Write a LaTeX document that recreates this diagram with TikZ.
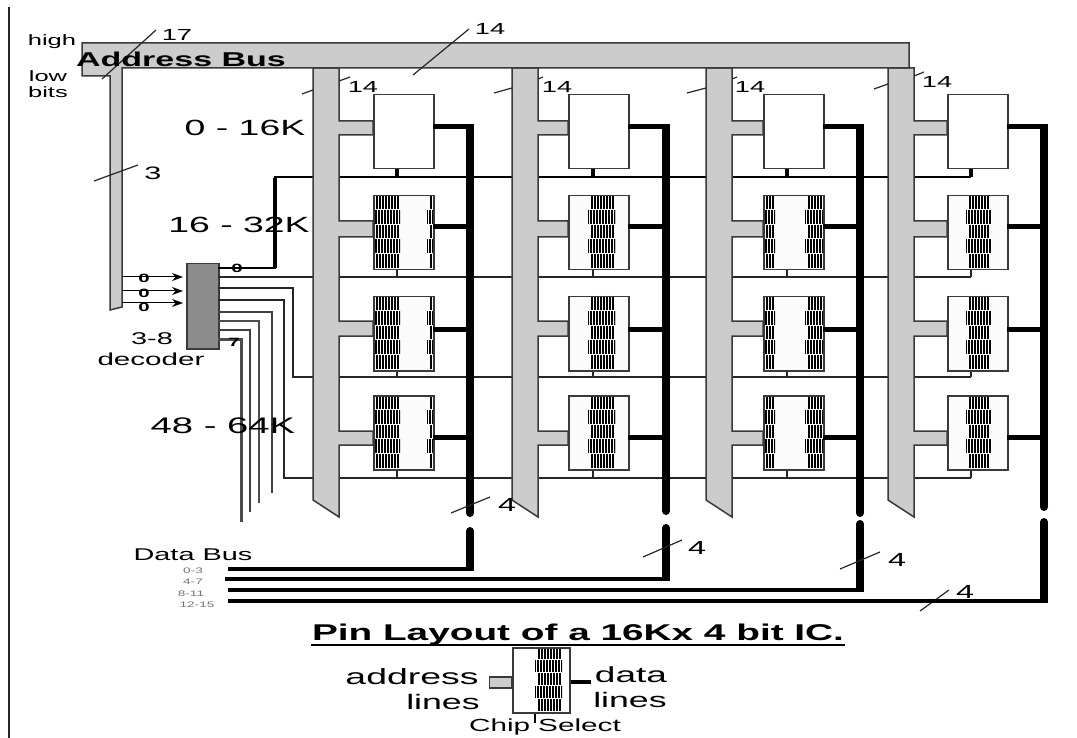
\documentclass[tikz,border=0pt]{standalone}
\usepackage{fontspec}
\usetikzlibrary{arrows.meta}
\newfontfamily\wf[FakeStretch=1.7]{Liberation Sans}
\newcommand{\fsz}[1]{\fontsize{#1}{#1}\selectfont\wf}
\definecolor{busgray}{HTML}{CCCCCC}
\definecolor{busedge}{HTML}{3A3A3A}
\definecolor{decgray}{HTML}{8C8C8C}
\definecolor{chipbg}{HTML}{FBFBFB}
\tikzset{
  lbl/.style={inner sep=0pt,text=black,font=\fsz{#1}},
  busline/.style={draw=busedge,fill=busgray,line width=1.5pt,line join=miter},
  chipbox/.style={draw=busedge,fill=chipbg,line width=1.5pt,inner sep=0pt,minimum width=60pt,minimum height=74pt,anchor=north west},
  plainchip/.style={chipbox,fill=white},
  slash/.style={line width=1.2pt,draw=black!85},
  seline/.style={line width=1.5pt,draw=black!85},
  selthick/.style={line width=2pt,draw=black},
  dataline/.style={line width=5pt,draw=black},
  datathick/.style={line width=8pt,draw=black},
  databus/.style={line width=4.5pt,draw=black},
  outwire/.style={line width=2.4pt,draw=black!70},
  inwire/.style={line width=1pt,draw=black,shorten >=3pt,-{Stealth[length=11pt,width=8pt]}},
}
% x1, x2, ytop, band height
\newcommand{\stripes}[4]{%
  \begin{scope}
  \pgfmathsetmacro\yz{#3+5*#4}
  \clip (#1,#3) rectangle (#2,\yz);
  \foreach \b in {0,...,4}{
    \pgfmathsetmacro\ya{#3+#4*\b}
    \pgfmathsetmacro\yb{\ya+#4-1}
    \pgfmathsetmacro\odd{int(mod(\b,2))}
    \pgfmathsetmacro\n{int((#2-#1)/3)}
    \pgfmathsetmacro\ks{int(1-\odd)}
    \pgfmathsetmacro\ke{int(\n-1+\odd)}
    \foreach \k in {\ks,...,\ke}{
      \pgfmathsetmacro\xx{#1+1+\k*3-\odd}
      \draw[line width=1.6pt,black] (\xx,\ya) -- (\xx,\yb);
    }
  }
  \end{scope}
}
\begin{document}
\begin{tikzpicture}[x=1pt,y=-1pt]
\useasboundingbox (0,0) rectangle (1077,738);
\path[fill=white] (0,0) rectangle (1077,738);
% page rule
\draw[line width=2pt,black!85] (9,7) -- (9,738);

% decoder
\node[draw=busedge,fill=decgray,line width=1.5pt,minimum width=32pt,minimum height=85pt,inner sep=0pt,anchor=north west] (dec) at (186,263) {};
\coordinate (o0) at (218,268);
\coordinate (o1) at (218,277);
\coordinate (o2) at (218,288);
\coordinate (o3) at (218,300);
\coordinate (o4) at (218,312);
\coordinate (o5) at (218,321);
\coordinate (o6) at (218,330);
\coordinate (o7) at (218,339);

% select lines
\coordinate (s0) at (971,177);
\coordinate (s1) at (971,277);
\coordinate (s2) at (971,377);
\coordinate (s3) at (971,478);
\draw[selthick] (o0) -- (275,268) -- (275,177) -- (s0);
\draw[line width=4pt,black] (275,268) -- (275,178);
\draw[seline] (o1) -- (s1);
\draw[seline] (o2) -- (293,288) -- (293,377) -- (s2);
\draw[seline] (o3) -- (284,300) -- (284,478) -- (s3);
% unused decoder outputs
\coordinate (e4) at (272,493);
\coordinate (e5) at (259,503);
\coordinate (e6) at (250,512);
\coordinate (e7) at (241,522);
\draw[line width=1.6pt,black!75] (o4) -| (e4);
\draw[outwire] (o5) -| (e5);
\draw[line width=1.8pt,black!75] (o6) -| (e6);
\draw[line width=3pt,black!70] (o7) -| (e7);

% columns
\foreach \c/\bl/\cl/\dx/\sx/\up/\lo/\by/\sa/\sb/\sc/\sd in {
  1/313/373/470/397/513/531/569/0/27/54/60,
  2/512/568/666/593/511/528/579/20/47/20/47,
  3/706/763/860/787/513/524/590/0/12/42/60,
  4/888/947/1044/971/507/522/601/19/45/19/45}{
  \pgfmathsetmacro\br{\bl+26}
  % bus with stubs
  \draw[busline] (\bl,68) -- (\bl,500) -- (\br,517) -- (\br,445) -- (\cl,445) -- (\cl,431)
     -- (\br,431) -- (\br,336) -- (\cl,336) -- (\cl,321) -- (\br,321) -- (\br,237)
     -- (\cl,237) -- (\cl,221) -- (\br,221) -- (\br,135) -- (\cl,135) -- (\cl,121)
     -- (\br,121) -- (\br,68) -- cycle;
  % chips
  \pgfmathsetmacro\cr{\cl+60}
  \node[plainchip] (c\c r1) at (\cl,94) {};
  \foreach \r/\ty in {2/195,3/296,4/395}{
    \node[chipbox] (c\c r\r) at (\cl,\ty) {};
    \pgfmathsetmacro\xa{\cl+\sa}\pgfmathsetmacro\xb{\cl+\sb}
    \pgfmathsetmacro\xc{\cl+\sc}\pgfmathsetmacro\xd{\cl+\sd}
    \stripes{\xa}{\xb}{\ty}{14.8}
    \stripes{\xc}{\xd}{\ty}{14.8}
    \node[chipbox,fill=none] at (\cl,\ty) {};
  }
  % chip select stubs
  \draw[line width=4pt,black] (c\c r1.south -| \sx,0) -- (\sx,177);
  \draw[seline] (c\c r2.south -| \sx,0) -- (\sx,277);
  \draw[seline] (c\c r3.south -| \sx,0) -- (\sx,377);
  \draw[seline] (c\c r4.south -| \sx,0) -- (\sx,478);
  % data lines
  \coordinate (dt\c) at (\dx,124.5);
  \coordinate (du\c) at (\dx,\up);
  \coordinate (dl\c) at (\dx,\lo);
  \coordinate (db\c) at (\dx,\by);
  \draw[dataline] (\cr,127) -- (\dx,127);
  \draw[dataline] (\cr,227) -- (\dx,227);
  \draw[dataline] (\cr,329) -- (\dx,329);
  \draw[dataline] (\cr,437) -- (\dx,437);
  \draw[datathick] (dt\c) -- (du\c);
  \draw[datathick] (dl\c) -- (db\c);
  \fill[black] (du\c) circle[radius=4pt];
  \fill[black] (dl\c) circle[radius=4pt];
}

% address bus
\draw[busline] (82,43) -- (909,43) -- (909,68) -- (122,68) -- (122,307) -- (110,310) -- (110,76) -- (82,76) -- cycle;

% column 14 slashes: only the parts outside the buses show
\draw[slash] (302,94) -- (313,90);
\draw[slash] (339,81) -- (350,77);
\draw[slash] (494,93) -- (512,88);
\draw[slash] (538,79) -- (543,77);
\draw[slash] (687,93) -- (706,88);
\draw[slash] (732,79) -- (737,77);
\draw[slash] (874,89) -- (888,84);
\draw[slash] (914,76) -- (924,72);
\node[lbl=16] (n14a) at (363,87) {14};
\node[lbl=16] (n14b) at (557,87) {14};
\node[lbl=16] (n14c) at (750,87) {14};
\node[lbl=16] (n14d) at (937,82) {14};

% bus slashes
\draw[slash] (102,79) -- (156,30);
\draw[slash] (413,75) -- (469,29);
\draw[slash] (94,181) -- (138,165);
\draw[slash] (451,513) -- (490,497);
\draw[slash] (643,557) -- (682,540);
\draw[slash] (840,569) -- (880,552);
\draw[slash] (920,611) -- (949,590);
\node[lbl=16] (n17) at (177,35) {17};
\node[lbl=16] (n14) at (490,29) {14};
\node[lbl=18] (n3) at (153,173) {3};
\node[lbl=19] (n4a) at (507,505) {4};
\node[lbl=19] (n4b) at (697,548) {4};
\node[lbl=19] (n4c) at (897,560) {4};
\node[lbl=19] (n4d) at (965,592) {4};

% decoder inputs
\coordinate (i0) at (122,277);
\coordinate (i1) at (122,291);
\coordinate (i2) at (122,303);
\draw[inwire] (i0) -- (i0 -| dec.west);
\draw[inwire] (i1) -- (i1 -| dec.west);
\draw[inwire] (i2) -- (i2 -| dec.west);
\node[lbl=12,font=\fsz{12}\bfseries] (zi0) at (144,278) {0};
\node[lbl=12,font=\fsz{12}\bfseries] (zi1) at (144,293) {0};
\node[lbl=12,font=\fsz{12}\bfseries] (zi2) at (144,307) {0};
\node[lbl=12,font=\fsz{12}\bfseries] (zo0) at (237,268) {0};
\node[lbl=12,font=\fsz{12}\bfseries] (zo7) at (234,342) {7};

% data bus
\coordinate (w0) at (228,569);
\coordinate (w1) at (225,579);
\coordinate (w2) at (228,590);
\coordinate (w3) at (228,601);
\draw[databus] (w0) -- ([xshift=4pt]w0 -| db1);
\draw[databus] (w1) -- ([xshift=4pt]w1 -| db2);
\draw[databus] (w2) -- ([xshift=4pt]w2 -| db3);
\draw[databus] (w3) -- ([xshift=4pt]w3 -| db4);

% text
\node[lbl=15] (high) at (52,42) {high};
\node[lbl=15] (low) at (48,76) {low};
\node[lbl=15] (bits) at (48,92) {bits};
\node[lbl=20,font=\fsz{20}\bfseries] (ab) at (181,59) {Address Bus};
\node[lbl=22] (k1) at (245,128) {0 - 16K};
\node[lbl=22] (k2) at (239,225) {16 - 32K};
\node[lbl=22.5] (k4) at (223,426) {48 - 64K};
\node[lbl=17] (d38) at (152,339) {3-8};
\node[lbl=17.4] (ddec) at (151,359) {decoder};
\node[lbl=17] (dbus) at (193,555) {Data Bus};
\node[lbl=8,text=black!55] (b0) at (193,571) {0-3};
\node[lbl=8,text=black!55] (b1) at (193,582) {4-7};
\node[lbl=8,text=black!55] (b2) at (191,594) {8-11};
\node[lbl=8,text=black!55] (b3) at (197,605) {12-15};
\node[lbl=22.8,font=\fsz{22.8}\bfseries] (pin) at (578,635) {Pin Layout of a 16Kx 4 bit IC.};
\draw[line width=2pt,black] (311,644.5) -- (845,644.5);

% pin layout chip
\node[plainchip,minimum width=57pt,minimum height=65pt] (pc) at (512,647) {};
\stripes{535}{562}{647}{13}
\node[plainchip,fill=none,minimum width=57pt,minimum height=65pt] at (512,647) {};
\node[draw=busedge,fill=busgray,line width=1.5pt,inner sep=0pt,minimum width=22pt,minimum height=11pt,anchor=east] (pa) at (pc.west |- 0,682.5) {};
\coordinate (pd) at (591,682);
\draw[line width=4pt,black] (pc.east |- pd) -- (pd);
\coordinate (ps) at (535,723);
\draw[line width=2pt,black] (pc.south -| ps) -- (ps);
\node[lbl=22] (ta) at (412,677) {address};
\node[lbl=21] (tl) at (443,702) {lines};
\node[lbl=21.8] (td) at (631,675) {data};
\node[lbl=21] (tl2) at (630,700) {lines};
\node[lbl=17.5] (cs) at (545,727) {Chip\hspace{8pt}Select};
\end{tikzpicture}
\end{document}
